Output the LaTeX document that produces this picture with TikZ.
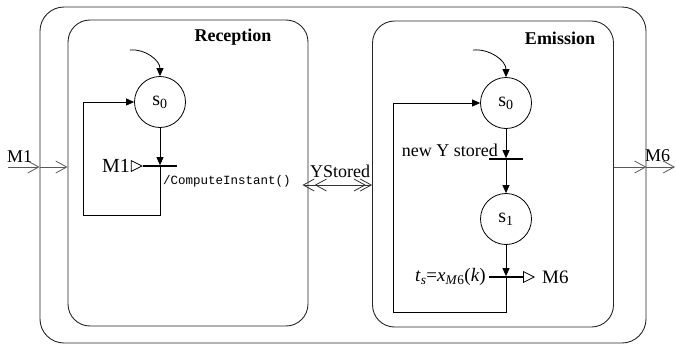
\documentclass[tikz,border=0pt]{standalone}
\usepackage{fontspec}
\setmainfont{Liberation Serif}
\setmonofont{Liberation Mono}
\usepackage{tikz}
\usetikzlibrary{arrows.meta, positioning, calc}
\tikzset{
  block/.style={
    draw=black!85, rounded corners=24pt, line width=0.9pt, inner sep=0pt
  },
  state/.style={
    circle, draw, minimum size=51pt, inner sep=0pt, line width=0.8pt,
    font=\fontsize{20}{22}\selectfont
  },
  bar/.style={
    rectangle, fill=black, minimum width=34pt, minimum height=1.3pt, inner sep=0pt
  },
  arrow/.style={
    -{Triangle[length=8pt,width=7pt]}, line width=0.8pt
  },
  emit/.style={
    -{Triangle[open,length=12pt,width=12pt]}, line width=0.8pt
  },
  port/.style={
    -{Straight Barb[length=11pt,width=12pt]}, line width=0.8pt, color=black!65
  },
  link/.style={
    {Straight Barb[length=11pt,width=12pt,sep=-6pt]Straight Barb[length=11pt,width=12pt]}-{Straight Barb[length=11pt,width=12pt,sep=-6pt]Straight Barb[length=11pt,width=12pt]},
    line width=0.8pt, color=black!80
  }
}

\begin{document}
\begin{tikzpicture}[
  x=1pt, y=-1pt,
  every node/.style={font=\fontsize{18}{20}\selectfont},
  title/.style={font=\bfseries\fontsize{18}{20}\selectfont}
]
\useasboundingbox (0,0) rectangle (676,346);

% Component and its two parts
\node[block, minimum width=606pt, minimum height=336pt] (system) at (343,175) {};
\node[block, minimum width=240pt, minimum height=306pt, rounded corners=22pt] (reception) at (188,173) {};
\node[block, minimum width=241pt, minimum height=306pt, rounded corners=22pt] (emission) at (493,174) {};

\node[title] (recTitle) at (233,37) {Reception};
\node[title] (emTitle) at (560,38) {Emission};

% Reception automaton
\node[state] (rs0) at (160,102) {s\textsubscript{0}};
\coordinate (rinit) at (130,50);
\draw[arrow] (rinit) to[out=5,in=90] (rs0);

\node[bar] (rt1) at (160,166) {};
\draw[arrow] (rs0) -- (rt1);
\node[anchor=east, inner sep=1pt, font=\fontsize{20}{22}\selectfont] (rm1) at (131,166) {M1};
\draw[emit] (rm1.east) -- (rt1.west);
\node[anchor=west, inner sep=1pt, font=\ttfamily\fontsize{12.5}{14}\selectfont] (raction) at (162,181) {/ComputeInstant()};

\coordinate (rloop) at (83,215);
\draw[arrow] (rt1.center) |- (rloop) |- (rs0);

% Emission automaton
\node[state] (es0) at (506,103) {s\textsubscript{0}};
\coordinate (einit) at (473,50);
\draw[arrow] (einit) to[out=5,in=90] (es0);

\node[bar] (et1) at (506,159) {};
\draw[arrow] (es0) -- (et1);
\node[anchor=base east, inner sep=1pt] (eguard) at (499,156) {new Y stored};

\node[state] (es1) at (506,219) {s\textsubscript{1}};
\draw[arrow] (et1) -- (es1);

\node[bar] (et2) at (506,277) {};
\draw[arrow] (es1) -- (et2);
\node[anchor=east, inner sep=1pt, font=\fontsize{19}{21}\selectfont] (eguard2) at (487,277)
  {\textit{t}\textsubscript{\textit{s}}=\textit{x}\textsubscript{\textit{M}6}(\textit{k})};
\node[anchor=west, inner sep=1pt, font=\fontsize{19}{21}\selectfont] (em6) at (541,277) {M6};
\draw[emit, shorten >=6pt] (et2.east) -- (em6.west);

\coordinate (eloop) at (393,312);
\draw[arrow] (et2.center) |- (eloop) |- (es0);

% Ports
\coordinate (m1src) at (8,167);
\draw[port] (m1src) -- (m1src -| system.west);
\draw[port] (m1src -| system.west) -- (m1src -| reception.west);
\node[anchor=base west, inner sep=0pt] (m1lbl) at (7,162) {M1};

\coordinate (ylink) at (340,185);
\draw[link] (ylink -| reception.east) -- (ylink -| emission.west);
\node[anchor=base, inner sep=0pt] (ylbl) at (340,177) {YStored};

\coordinate (m6dst) at (675,167);
\draw[port] (m6dst -| emission.east) -- (m6dst -| system.east);
\draw[port] (m6dst -| system.east) -- (m6dst);
\node[anchor=base west, inner sep=0pt] (m6lbl) at (645,161) {M6};

\end{tikzpicture}
\end{document}
